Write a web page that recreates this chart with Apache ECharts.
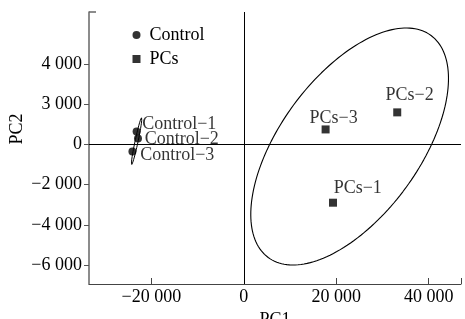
<!DOCTYPE html>
<html><head><meta charset="utf-8">
<script src="https://cdn.jsdelivr.net/npm/echarts@6/dist/echarts.min.js"></script>
<style>html,body{margin:0;padding:0;background:#fff}#c{width:465px;height:319px}</style>
</head><body><div id="c"></div>
<script>
// ---- data ----
const xTickValues = [-20000, 0, 20000, 40000];
const xTickLabels = ['\u221220 000', '0', '20 000', '40 000'];
const yTickValues = [4000, 2000, 0, -2000, -4000, -6000];
const yTickLabels = ['4 000', '3 000', '0', '\u22122 000', '\u22124 000', '\u22126 000'];
const xRange = [-33500, 47000];
const yRange = [-6950, 6600];

const controlNames = ['Control\u22121', 'Control\u22122', 'Control\u22123'];
const controlPC1 = [-23200, -22900, -24100];
const controlPC2 = [650, 300, -350];

const pcsNames = ['PCs\u22121', 'PCs\u22122', 'PCs\u22123'];
const pcsPC1 = [19300, 33200, 17700];
const pcsPC2 = [-2900, 1600, 750];

// confidence ellipses: centre and two conjugate semi-axis vectors (data units)
const pcsEllipseCenter = [22900, -100];
const pcsEllipseAxisA = [17620, 5530];
const pcsEllipseAxisB = [12130, -2065];
const controlEllipseCenter = [-23200, 165];
const controlEllipseAxisA = [1081, 1165];
const controlEllipseAxisB = [318, -15];

// ---- label placement (positions, not data) ----
const controlLabelPos = [[9.6, -3.3], [10.7, 5], [11.7, 7.7]];
const pcsLabelPos = [[4.7, -10.3], [-7.7, -12.7], [-12, -7.5]];

const FONT = 'Liberation Serif';
const FS = 18;

function ellipsePoints(c, a, b, n) {
  const pts = [];
  for (let i = 0; i <= n; i++) {
    const t = 2 * Math.PI * i / n;
    pts.push([c[0] + a[0] * Math.cos(t) + b[0] * Math.sin(t),
              c[1] + a[1] * Math.cos(t) + b[1] * Math.sin(t)]);
  }
  return pts;
}

const controlData = controlNames.map((n, i) => ({
  name: n, value: [controlPC1[i], controlPC2[i]],
  label: { position: controlLabelPos[i] }
}));
const pcsData = pcsNames.map((n, i) => ({
  name: n, value: [pcsPC1[i], pcsPC2[i]],
  label: { position: pcsLabelPos[i] }
}));

const pointLabel = {
  show: true, formatter: p => p.name, align: 'left', verticalAlign: 'middle',
  fontFamily: FONT, fontSize: FS, color: '#000'
};

const chart = echarts.init(document.getElementById('c'), null, { renderer: 'canvas' });
chart.setOption({
  animation: false,
  backgroundColor: '#fff',
  textStyle: { fontFamily: FONT },
  grid: { left: 89, right: 4, top: 12, bottom: 35, containLabel: false, outerBoundsMode: 'none' },
  legend: {
    orient: 'vertical', left: 132.5, top: 26, padding: 0,
    itemWidth: 8, itemHeight: 8, itemGap: 6,
    selectedMode: false,
    textStyle: { fontFamily: FONT, fontSize: FS, color: '#000', lineHeight: 18, padding: [0, 0, 0, 4] },
    data: [{ name: 'Control', icon: 'circle' }, { name: 'PCs', icon: 'rect' }]
  },
  xAxis: {
    type: 'value', min: xRange[0], max: xRange[1],
    splitLine: { show: false },
    axisLine: { show: true, onZero: false, lineStyle: { color: '#444', width: 1 } },
    axisTick: { show: true, inside: true, length: 6, customValues: xTickValues.concat([xRange[1]]), lineStyle: { color: '#444' } },
    axisLabel: {
      customValues: xTickValues, margin: 4,
      formatter: v => xTickLabels[xTickValues.indexOf(v)],
      fontFamily: FONT, fontSize: FS, color: '#000'
    },
    name: 'PC1', nameLocation: 'middle', nameGap: 22,
    nameTextStyle: { fontFamily: FONT, fontSize: FS, color: '#000' }
  },
  yAxis: [{
    type: 'value', min: yRange[0], max: yRange[1],
    splitLine: { show: false },
    axisLine: { show: true, onZero: false, lineStyle: { color: '#666', width: 1.5 } },
    axisTick: { show: true, inside: false, length: 5, customValues: yTickValues, lineStyle: { color: '#555' } },
    axisLabel: {
      customValues: yTickValues, margin: 7,
      formatter: v => yTickLabels[yTickValues.indexOf(v)],
      fontFamily: FONT, fontSize: FS, color: '#000'
    }
  }, {
    type: 'value', min: yRange[0], max: yRange[1], position: 'left',
    splitLine: { show: false },
    axisLine: { show: false, onZero: false },
    axisTick: { show: true, inside: true, length: 7, customValues: [yRange[1]], lineStyle: { color: '#666', width: 1.5 } },
    axisLabel: { show: false }
  }],
  graphic: [{
    type: 'text', x: 17, y: 129, rotation: Math.PI / 2,
    style: { text: 'PC2', fontFamily: FONT, fontSize: FS, fill: '#000', align: 'center', verticalAlign: 'middle' }
  }],
  series: [
    {
      type: 'line', name: 'pcsEllipse', silent: true, showSymbol: false, symbol: 'none',
      data: ellipsePoints(pcsEllipseCenter, pcsEllipseAxisA, pcsEllipseAxisB, 180),
      lineStyle: { color: '#000', width: 1.1 },
      markLine: {
        silent: true, symbol: ['none', 'none'], label: { show: false },
        lineStyle: { color: '#000', width: 1, type: 'solid' },
        data: [{ xAxis: 0 }, { yAxis: 0 }]
      }
    },
    {
      type: 'line', name: 'controlEllipse', silent: true, showSymbol: false, symbol: 'none',
      data: ellipsePoints(controlEllipseCenter, controlEllipseAxisA, controlEllipseAxisB, 120),
      lineStyle: { color: '#000', width: 1 }
    },
    {
      type: 'scatter', name: 'Control', symbol: 'circle', symbolSize: 8,
      itemStyle: { color: '#000' }, label: pointLabel, data: controlData, z: 5
    },
    {
      type: 'scatter', name: 'PCs', symbol: 'rect', symbolSize: 8,
      itemStyle: { color: '#000' }, label: pointLabel, data: pcsData, z: 5
    }
  ]
});
</script>
</body></html>
